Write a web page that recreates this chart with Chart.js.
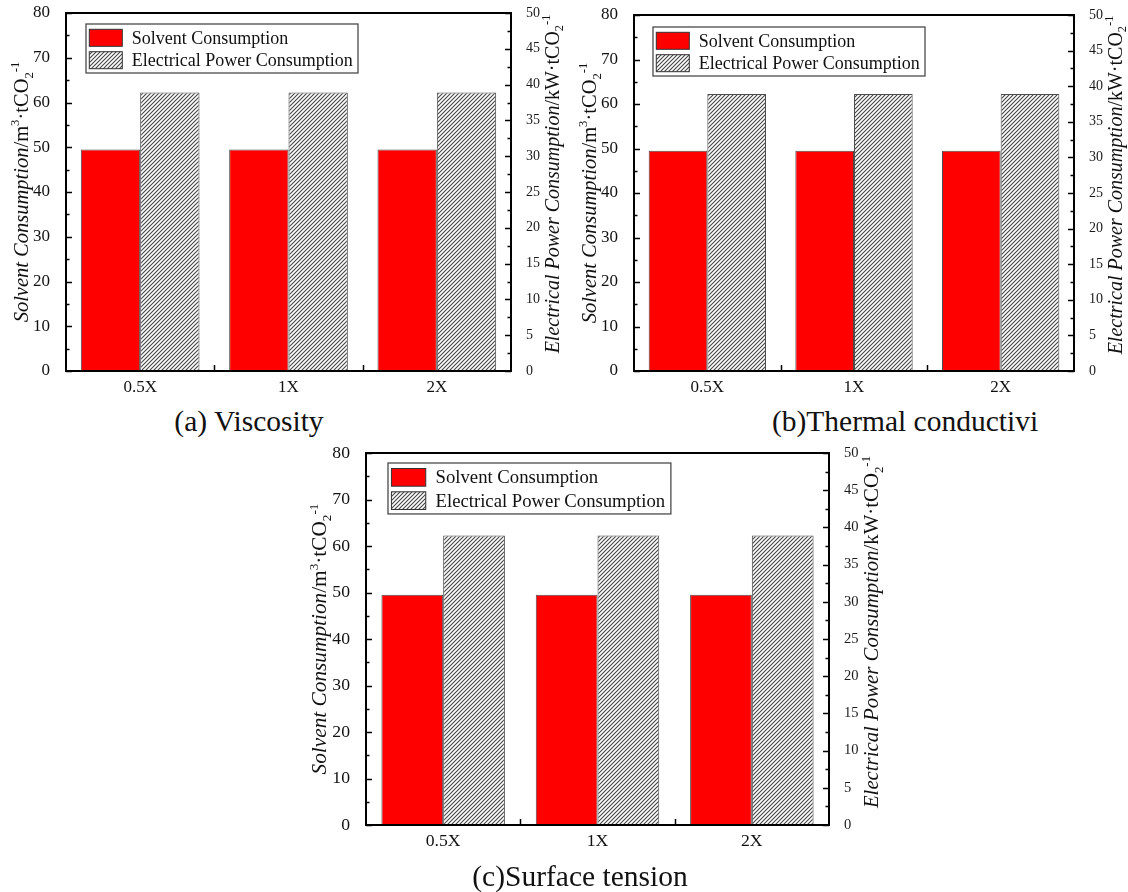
<!DOCTYPE html>
<html>
<head>
<meta charset="utf-8">
<script src="https://cdn.jsdelivr.net/npm/chart.js@4.4.1/dist/chart.umd.min.js"></script>
<style>
  html, body { margin: 0; padding: 0; background: #ffffff; }
  #page { position: relative; width: 1128px; height: 892px; overflow: hidden; background: #ffffff; }
  .panel { position: absolute; }
  .panel canvas { display: block; }
  .caption {
    position: absolute;
    font-family: "Liberation Serif", "Times New Roman", serif;
    font-size: 29.5px;
    line-height: 1;
    color: #111111;
    white-space: nowrap;
    transform: translateX(-50%);
  }
</style>
</head>
<body>
<div id="page">
  <div class="panel" id="panelA"><canvas id="chartA"></canvas></div>
  <div class="panel" id="panelB"><canvas id="chartB"></canvas></div>
  <div class="panel" id="panelC"><canvas id="chartC"></canvas></div>
  <div class="caption" id="capA"></div>
  <div class="caption" id="capB"></div>
  <div class="caption" id="capC"></div>
</div>
<script>
// ---- data ----
const categories = ['0.5X', '1X', '2X'];
const seriesNames = ['Solvent Consumption', 'Electrical Power Consumption'];

const solventViscosity = [49.5, 49.5, 49.5];
const powerViscosity   = [38.9, 38.9, 38.9];

const solventThermal = [49.5, 49.5, 49.5];
const powerThermal   = [38.9, 38.9, 38.9];

const solventSurface = [49.5, 49.5, 49.5];
const powerSurface   = [38.9, 38.9, 38.9];

const leftAxisRange  = [0, 80];   // m3 per tCO2
const rightAxisRange = [0, 50];   // kW per tCO2
const leftStep = 10, rightStep = 5;

const captions = ['(a) Viscosity', '(b)Thermal conductivi', '(c)Surface tension'];

const leftTitle = [
  { t: 'Solvent Consumption', italic: true },
  { t: '/m' },
  { t: '3', sup: true },
  { t: '\u00B7tCO' },
  { t: '2', sub: true },
  { t: '-1', sup: true }
];
const rightTitle = [
  { t: 'Electrical Power Consumption', italic: true },
  { t: '/kW\u00B7tCO' },
  { t: '2', sub: true },
  { t: '-1', sup: true }
];

// ---- drawing helpers ----
const SERIF = '"Liberation Serif", "Times New Roman", serif';

function makeHatch() {
  const c = document.createElement('canvas');
  c.width = 4; c.height = 4;
  const g = c.getContext('2d');
  g.fillStyle = '#ffffff';
  g.fillRect(0, 0, 4, 4);
  g.strokeStyle = '#444444';
  g.lineWidth = 1.1;
  g.beginPath();
  g.moveTo(0, 4); g.lineTo(4, 0);
  g.moveTo(-1, 1); g.lineTo(1, -1);
  g.moveTo(3, 5); g.lineTo(5, 3);
  g.stroke();
  return document.createElement('canvas').getContext('2d').createPattern(c, 'repeat');
}
const hatch = makeHatch();

function segFont(seg, size) {
  const s = (seg.sup || seg.sub) ? size * 0.62 : size;
  return (seg.italic ? 'italic ' : '') + s.toFixed(1) + 'px ' + SERIF;
}

// rotated (reading upward) text built from styled pieces
function drawRichVertical(ctx, segs, baseX, centerY, size) {
  ctx.save();
  ctx.translate(baseX, centerY);
  ctx.rotate(-Math.PI / 2);
  ctx.textBaseline = 'alphabetic';
  ctx.textAlign = 'left';
  ctx.fillStyle = '#111111';
  let total = 0;
  const widths = segs.map(seg => {
    ctx.font = segFont(seg, size);
    const w = ctx.measureText(seg.t).width;
    total += w;
    return w;
  });
  let x = -total / 2;
  segs.forEach((seg, i) => {
    ctx.font = segFont(seg, size);
    let dy = 0;
    if (seg.sup) dy = -size * 0.42;
    if (seg.sub) dy = size * 0.22;
    ctx.fillText(seg.t, x, dy);
    x += widths[i];
  });
  ctx.restore();
}

const framePlugin = {
  id: 'frameAndTicks',
  afterDatasetsDraw(chart) {
    const { ctx, chartArea: a, scales } = chart;
    const cfg = chart.options.plugins.frameAndTicks;
    ctx.save();
    ctx.strokeStyle = '#000000';
    // inward minor/major ticks on both value axes
    ctx.lineWidth = 1.5;
    ctx.beginPath();
    for (let v = leftAxisRange[0]; v <= leftAxisRange[1]; v += leftStep / 2) {
      const y = Math.round(scales.y.getPixelForValue(v)) + 0.5;
      const len = (v % leftStep === 0) ? 6 : 3.5;
      ctx.moveTo(a.left, y); ctx.lineTo(a.left + len, y);
    }
    for (let v = rightAxisRange[0]; v <= rightAxisRange[1]; v += rightStep / 2) {
      const y = Math.round(scales.y2.getPixelForValue(v)) + 0.5;
      const len = (v % rightStep === 0) ? 6 : 3.5;
      ctx.moveTo(a.right, y); ctx.lineTo(a.right - len, y);
    }
    // category boundary ticks on the x axis
    for (let i = 1; i < categories.length; i++) {
      const x = Math.round((scales.x.getPixelForValue(i - 1) + scales.x.getPixelForValue(i)) / 2) + 0.5;
      ctx.moveTo(x, a.bottom); ctx.lineTo(x, a.bottom - 6);
    }
    ctx.stroke();
    // plot frame
    ctx.lineWidth = 2;
    ctx.strokeRect(a.left, a.top, a.right - a.left, a.bottom - a.top);
    ctx.restore();

    // axis titles
    const fs = cfg.titleSize;
    drawRichVertical(ctx, leftTitle, a.left - cfg.leftTitleGap, (a.top + a.bottom) / 2 + cfg.leftTitleShift, fs);
    drawRichVertical(ctx, rightTitle, a.right + cfg.rightTitleGap, (a.top + a.bottom) / 2 + cfg.rightTitleShift, cfg.rightTitleSize);

    // legend box
    const L = cfg.legend;
    ctx.save();
    ctx.fillStyle = '#ffffff';
    ctx.fillRect(L.x, L.y, L.w, L.h);
    ctx.strokeStyle = '#4a4a4a';
    ctx.lineWidth = 1.3;
    ctx.strokeRect(L.x, L.y, L.w, L.h);
    chart.data.datasets.forEach((ds, i) => {
      const sy = L.y + L.swY[i];
      ctx.fillStyle = ds.backgroundColor;
      ctx.fillRect(L.x + L.swX, sy, L.swW, L.swH);
      ctx.strokeStyle = '#333333';
      ctx.lineWidth = 1;
      ctx.strokeRect(L.x + L.swX, sy, L.swW, L.swH);
      ctx.fillStyle = '#111111';
      ctx.font = L.font + 'px ' + SERIF;
      ctx.textBaseline = 'middle';
      ctx.textAlign = 'left';
      ctx.fillText(ds.label, L.x + L.textX, sy + L.swH / 2 + 1);
    });
    ctx.restore();
  }
};

function buildPanel(opts) {
  const holder = document.getElementById(opts.holder);
  holder.style.left = opts.pageX + 'px';
  holder.style.top = opts.pageY + 'px';
  const canvas = document.getElementById(opts.canvas);
  canvas.width = opts.w; canvas.height = opts.h;
  canvas.style.width = opts.w + 'px'; canvas.style.height = opts.h + 'px';
  const p = opts.plot; // plot box inside the canvas
  const s = opts.scale;

  return new Chart(canvas, {
    type: 'bar',
    data: {
      labels: categories,
      datasets: [
        {
          label: seriesNames[0], data: opts.solvent, yAxisID: 'y',
          backgroundColor: '#ff0000', borderColor: '#4d4d4d', borderWidth: 1,
          categoryPercentage: 0.8, barPercentage: 1.0
        },
        {
          label: seriesNames[1], data: opts.power, yAxisID: 'y2',
          backgroundColor: hatch, borderColor: '#4d4d4d', borderWidth: 1,
          categoryPercentage: 0.8, barPercentage: 1.0
        }
      ]
    },
    options: {
      responsive: false,
      animation: false,
      devicePixelRatio: 1,
      layout: { padding: { top: p.top, left: 0, right: 0, bottom: 0 } },
      plugins: {
        legend: { display: false },
        tooltip: { enabled: false },
        frameAndTicks: {
          titleSize: 20.5 * s,
          rightTitleSize: 20 * s,
          leftTitleGap: 38 * s, rightTitleGap: 47.5 * s,
          leftTitleShift: 0, rightTitleShift: opts.rightShift,
          legend: opts.legend
        }
      },
      scales: {
        x: {
          type: 'category',
          offset: true,
          grid: { display: false },
          border: { display: false },
          ticks: { color: '#111111', font: { family: SERIF, size: 17 * s, lineHeight: 1 }, padding: 0, maxRotation: 0, autoSkip: false },
          afterFit(sc) { sc.height = opts.h - p.bottom; }
        },
        y: {
          type: 'linear', position: 'left',
          min: leftAxisRange[0], max: leftAxisRange[1],
          grid: { display: false },
          border: { display: false },
          ticks: { stepSize: leftStep, color: '#111111', font: { family: SERIF, size: 17 * s, lineHeight: 0.5 }, padding: 8 },
          afterFit(sc) { sc.width = p.left; }
        },
        y2: {
          type: 'linear', position: 'right',
          min: rightAxisRange[0], max: rightAxisRange[1],
          grid: { display: false },
          border: { display: false },
          ticks: { stepSize: rightStep, color: '#1a1a1a', font: { family: SERIF, size: 14 * s, lineHeight: 0.5 }, padding: 7 },
          afterFit(sc) { sc.width = opts.w - p.right; }
        }
      }
    },
    plugins: [framePlugin]
  });
}

function legendBox(x, y, k) {
  return {
    x: x, y: y, w: 272 * k, h: 49 * k,
    swX: 3.3 * k, swY: [5.3 * k, 27.7 * k], swW: 33 * k, swH: 17 * k,
    textX: 45.7 * k, font: 18 * k
  };
}

buildPanel({
  holder: 'panelA', canvas: 'chartA', pageX: 0, pageY: 0, w: 575, h: 400,
  plot: { left: 66, top: 13, right: 511, bottom: 371 }, scale: 1, rightShift: -8,
  solvent: solventViscosity, power: powerViscosity,
  legend: legendBox(86, 24, 1)
});
buildPanel({
  holder: 'panelB', canvas: 'chartB', pageX: 560, pageY: 0, w: 568, h: 400,
  plot: { left: 74, top: 15, right: 514, bottom: 371 }, scale: 1, rightShift: -8,
  solvent: solventThermal, power: powerThermal,
  legend: legendBox(93, 27, 1)
});
buildPanel({
  holder: 'panelC', canvas: 'chartC', pageX: 300, pageY: 440, w: 600, h: 452,
  plot: { left: 66, top: 13, right: 529, bottom: 385 }, scale: 1.04, rightShift: -7,
  solvent: solventSurface, power: powerSurface,
  legend: legendBox(88, 23, 1.04)
});

// panel captions
const capPos = [[249, 407], [905, 407], [580, 862]];
['capA', 'capB', 'capC'].forEach((id, i) => {
  const el = document.getElementById(id);
  el.textContent = captions[i];
  el.style.left = capPos[i][0] + 'px';
  el.style.top = capPos[i][1] + 'px';
});
</script>
</body>
</html>
